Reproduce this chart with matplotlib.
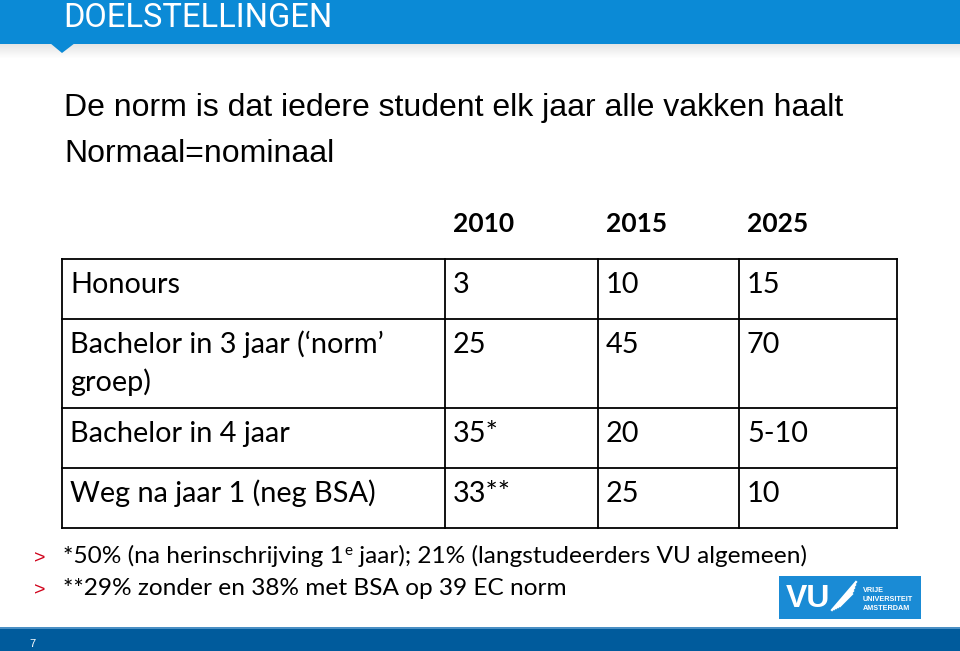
import matplotlib
matplotlib.use("Agg")
import matplotlib.pyplot as plt
from matplotlib.patches import Rectangle, Polygon
from matplotlib import font_manager

# --- slide content ---
title = "DOELSTELLINGEN"
intro_lines = ["De norm is dat iedere student elk jaar alle vakken haalt",
               "Normaal=nominaal"]
years = ["2010", "2015", "2025"]
row_labels = [["Honours"],
              ["Bachelor in 3 jaar (\u2018norm\u2019", "groep)"],
              ["Bachelor in 4 jaar"],
              ["Weg na jaar 1 (neg BSA)"]]
values_2010 = ["3", "25", "35*", "33**"]
values_2015 = ["10", "45", "20", "25"]
values_2025 = ["15", "70", "5-10", "10"]
page_number = "7"

header_blue = "#0b8ad6"
logo_blue = "#1a8bd5"
footer_blue = "#005b9c"
arrow_red = "#d0021b"

names = {f.name for f in font_manager.fontManager.ttflist}
title_font = "Liberation Sans Narrow" if "Liberation Sans Narrow" in names else "Roboto"
body_font = "Liberation Sans"
table_font = "Lato"

fig = plt.figure(figsize=(9.6, 6.51), dpi=100)
ax = fig.add_axes([0, 0, 1, 1])
ax.set_xlim(0, 960)
ax.set_ylim(651, 0)
ax.axis("off")

# header bar, shadow and pointer
for i in range(14):
    ax.add_patch(Rectangle((0, 44 + i), 960, 1, color="#000000", alpha=0.10 * (1 - i / 14), lw=0))
ax.add_patch(Rectangle((0, 0), 960, 44, color=header_blue, lw=0))
ax.add_patch(Polygon([(50, 43), (75, 43), (62, 53)], closed=True, color=header_blue, lw=0))
ax.text(63, 27, title, color="white", fontsize=23.5, family=title_font, va="baseline")

# intro lines
for i, line in enumerate(intro_lines):
    ax.text(64, 116 + i * 46, line, fontsize=23, family=body_font, va="baseline", color="#000000")

# table
col_edges = [62, 445, 598, 739, 897]
row_edges = [259, 319, 408, 468, 528]
value_cols = [values_2010, values_2015, values_2025]
cell_size = 20.8

for j, yr in enumerate(years):
    ax.text(col_edges[j + 1] + 8, 232, yr, fontsize=19, family=table_font, weight="bold", va="baseline")

for x in col_edges:
    ax.plot([x, x], [row_edges[0], row_edges[-1]], color="black", lw=1.3, solid_capstyle="projecting")
for y in row_edges:
    ax.plot([col_edges[0], col_edges[-1]], [y, y], color="black", lw=1.3, solid_capstyle="projecting")

for i, label in enumerate(row_labels):
    base = row_edges[i] + 34
    for k, part in enumerate(label):
        ax.text(col_edges[0] + 8, base + k * 38, part, fontsize=cell_size, family=table_font, va="baseline")
    for j, col in enumerate(value_cols):
        ax.text(col_edges[j + 1] + 8, base, col[i], fontsize=cell_size, family=table_font, va="baseline")

# footnotes
renderer = fig.canvas.get_renderer()
fn_size = 17.6
def put(x, y, s, size=fn_size, **kw):
    t = ax.text(x, y, s, fontsize=size, family=table_font, va="baseline", **kw)
    bb = t.get_window_extent(renderer)
    return bb.x1

for y in (563, 595):
    ax.text(34, y, ">", fontsize=14, family=body_font, color=arrow_red, va="baseline")
x = put(63, 563, "*50% (na herinschrijving 1")
x = put(x + 1, 555, "e", size=11)
put(x, 563, " jaar); 21% (langstudeerders VU algemeen)")
put(63, 595, "**29% zonder en 38% met BSA op 39 EC norm")

# logo
ax.add_patch(Rectangle((779, 576), 142, 43, color=logo_blue, lw=0))
ax.text(786, 607, "VU", color="white", fontsize=23, family=body_font, weight="bold", va="baseline")
for k in range(5):
    ax.plot([832 + k * 2, 856 - k], [610 - k, 582 + k * 3], color="white", lw=1.6)
for k, word in enumerate(["VRIJE", "UNIVERSITEIT", "AMSTERDAM"]):
    ax.text(863, 592 + k * 9, word, color="white", fontsize=5.2, family=body_font, weight="bold", va="baseline")

# footer bar
ax.add_patch(Rectangle((0, 628), 960, 23, color=footer_blue, lw=0))
ax.add_patch(Rectangle((0, 627), 960, 1.5, color="#4a8fc4", lw=0))
ax.text(29, 647, page_number, color="white", fontsize=8, family=body_font, va="baseline")

fig.savefig("out.png", dpi=100)
